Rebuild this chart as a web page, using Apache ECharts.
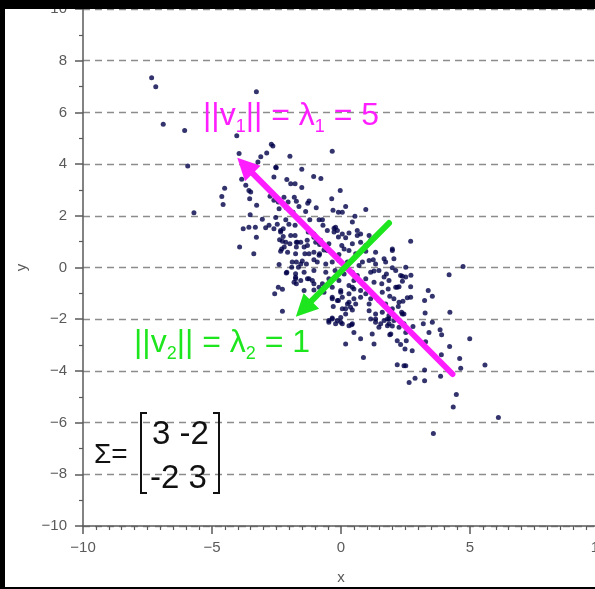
<!DOCTYPE html>
<html>
<head>
<meta charset="utf-8">
<script src="https://cdn.jsdelivr.net/npm/echarts@6/dist/echarts.min.js"></script>
<style>
html, body { margin: 0; padding: 0; background: #fff; }
#chart { width: 595px; height: 589px; }
</style>
</head>
<body>
<div id="chart"></div>
<script>
// scatter points, [x, y]
var outlierPts = [
    [-7.34, 7.34], [-7.18, 6.99], [-6.89, 5.54], [-6.06, 5.30], [-5.94, 3.93], [-5.70, 2.12],
    [-4.04, 5.10], [-3.95, 4.41], [-3.28, 6.80], [-0.34, 4.50], [4.73, 0.04], [4.19, -0.28],
    [4.99, -2.76], [5.58, -3.77], [4.47, -4.91], [4.35, -5.40], [6.10, -5.80], [3.58, -6.42]
];
var upperPts = [
    [-2.70, 4.77], [-2.64, 4.70], [-2.88, 4.43], [-3.11, 4.28], [-3.22, 4.08], [-1.98, 4.30], [-2.53, 3.88],
    [-4.62, 2.75], [-4.51, 3.07], [-4.57, 2.44], [-3.85, 3.41], [-3.69, 3.18], [-3.57, 2.98], [-3.50, 2.92],
    [-3.54, 2.66], [-3.27, 2.41], [-3.52, 2.04], [-3.79, 1.50], [-3.57, 1.56], [-3.32, 1.56], [-3.05, 1.87],
    [-2.92, 1.54], [-3.28, 1.17], [-3.93, 0.79], [-3.38, 0.53], [-2.60, 3.50], [-2.10, 3.40], [-1.95, 3.24],
    [-1.78, 3.24], [-2.51, 3.86], [-2.75, 2.76], [-2.60, 2.60], [-2.43, 2.53], [-2.21, 2.72], [-2.05, 2.53],
    [-1.81, 2.72], [-1.73, 2.56], [-2.40, 2.27], [-2.12, 2.31], [-1.86, 2.14], [-2.53, 1.93], [-2.47, 1.67],
    [-2.14, 1.85], [-2.02, 1.67], [-2.79, 1.63], [-2.60, 1.50], [-2.24, 1.50], [-1.78, 1.63], [-2.34, 1.43],
    [-2.38, 1.07], [-2.27, 1.02], [-2.30, 0.72], [-2.20, 0.79], [-2.40, 0.12], [-2.10, -0.18], [-1.91, 0.01],
    [-1.76, -0.24], [-2.57, -1.02], [-2.43, -0.76], [-2.27, -0.84], [-2.27, -1.69],
    [-1.52, 3.80], [-1.06, 3.52], [-0.78, 3.44], [-1.52, 3.09], [-0.03, 2.98], [-0.36, 2.66], [-1.24, 2.57],
    [-1.29, 2.49], [0.18, 2.36], [-1.63, 2.36], [-0.96, 2.31], [-1.37, 2.17], [-0.31, 2.21], [-0.10, 2.14],
    [0.05, 2.14], [0.96, 2.24], [0.54, 1.98], [-1.21, 1.85], [-0.85, 1.85], [-0.72, 1.85], [-0.70, 1.63],
    [-0.27, 1.52], [-2.34, 1.37], [-2.24, 1.20], [-1.95, 1.24], [-1.78, 1.24], [-2.14, 0.98], [-1.98, 0.92],
    [-1.73, 0.98], [-2.34, 0.63], [-2.07, 0.59], [-1.73, 0.79], [-1.89, 0.21], [-1.73, 0.21], [-1.65, 0.01],
    [-2.12, -0.21], [-1.76, -0.38], [-1.82, -0.57], [-1.73, -0.63]
];
var centerPts = [
    [2.70, 1.02], [1.99, 0.66], [1.67, 0.34], [1.25, 0.30], [0.83, 0.21], [1.67, -0.37], [1.28, -0.14],
    [-0.14, 1.43], [0.05, 1.30], [0.44, 1.76], [0.63, 1.43], [0.76, 1.30], [-0.21, 1.56], [-0.53, 1.43],
    [-0.79, 1.05], [-1.05, 1.17], [-1.31, 1.05], [-1.43, 0.79], [-1.69, 0.98], [-1.76, 0.53], [-1.56, 0.14],
    [-1.24, 0.53], [-0.85, 0.47], [-0.53, 0.66], [-1.76, -0.44], [-1.56, -0.50], [-1.24, -0.44], [-1.05, -0.63],
    [-0.85, -0.76], [-0.66, -0.96], [-0.34, -1.15], [-0.01, -0.89], [0.44, -0.76],
    [-1.27, 1.37], [-1.05, 1.30], [-0.27, 1.37], [-0.10, 1.18], [0.31, 1.33], [0.18, 1.15], [0.63, 1.24],
    [1.09, 1.24], [1.32, 1.18], [-1.56, 0.98], [-1.30, 0.85], [-0.98, 0.98], [-0.83, 0.89], [-0.47, 0.92],
    [0.03, 0.85], [0.12, 0.72], [0.44, 0.92], [0.76, 0.98], [0.96, 0.85], [1.15, 1.05], [-1.40, 0.53],
    [-1.05, 0.59], [-0.83, 0.53], [-0.66, 0.68], [-0.34, 0.56], [-0.08, 0.50], [0.31, 0.66], [0.57, 0.53],
    [0.96, 0.63], [1.34, 0.59], [1.99, 0.72], [-1.50, 0.25], [-1.34, 0.14], [-1.05, 0.30], [-0.92, 0.21],
    [-0.59, 0.14], [-0.34, 0.21], [-0.08, 0.27], [0.25, 0.21], [0.70, 0.08], [1.09, 0.27], [1.34, 0.14],
    [1.73, 0.21], [2.05, 0.34], [2.51, 0.01], [-1.43, -0.18], [-1.05, -0.12], [-0.59, -0.18], [-0.23, -0.12],
    [0.12, -0.25], [0.44, -0.18], [0.63, -0.31], [1.15, -0.18], [1.47, -0.12], [1.76, -0.25], [2.12, -0.12],
    [2.31, -0.31], [-1.30, -0.44], [-1.11, -0.50], [-0.72, -0.63], [-0.47, -0.44], [-0.08, -0.50], [0.31, -0.70],
    [0.50, -0.50], [0.96, -0.44], [1.28, -0.57], [1.58, -0.63], [1.86, -0.50], [2.51, -0.37], [-1.43, -0.89],
    [-1.05, -0.87], [-0.34, -0.76], [-0.01, -0.96], [0.31, -1.02], [0.50, -0.83], [0.76, -0.89], [0.96, -1.02],
    [1.28, -1.09], [1.60, -0.96], [1.83, -0.83], [2.12, -0.76], [-0.34, -1.21], [-0.10, -1.28], [0.05, -1.15],
    [0.31, -1.34], [0.50, -1.21], [0.76, -1.15], [1.09, -1.41], [1.15, -1.21], [1.47, -1.28], [1.73, -1.41],
    [2.05, -1.21], [2.25, -1.34], [0.05, -1.60], [0.44, -1.64], [0.18, -1.80], [1.09, -1.67], [1.34, -1.80],
    [1.60, -1.73], [1.86, -1.86], [1.99, -1.60], [2.38, -1.80], [-0.47, -2.05], [-0.34, -1.95], [-0.21, -2.18],
    [-0.01, -2.12], [0.31, -2.25], [1.15, -1.99], [1.34, -2.12], [1.47, -2.31], [1.67, -2.05], [1.80, -2.25],
    [2.05, -2.05], [2.25, -2.31]
];
var lowerPts = [
    [1.99, -0.01], [2.38, -0.34], [2.71, -0.30], [2.38, -0.53], [2.18, -0.76], [2.25, -0.74], [2.70, -0.74],
    [3.38, -0.89], [3.54, -1.11], [1.89, -1.11], [2.70, -1.15], [2.57, -1.17], [2.40, -1.31], [3.24, -1.28],
    [2.22, -1.51], [2.35, -1.73], [2.44, -1.80], [1.93, -1.67], [1.86, -1.99], [3.26, -1.76], [4.22, -1.73],
    [1.99, -2.26], [2.44, -2.18], [2.79, -2.28], [3.19, -2.18], [3.54, -2.12], [2.51, -2.51], [3.41, -2.51],
    [3.84, -2.41], [3.90, -2.60], [1.89, -2.60], [2.18, -2.83], [2.53, -2.83], [2.31, -2.98], [3.28, -2.87],
    [2.48, -3.15], [2.76, -3.22], [4.21, -3.06], [3.89, -3.38], [4.60, -3.52], [4.64, -3.90], [2.18, -3.76],
    [2.44, -3.80], [2.51, -3.80], [3.24, -3.97], [2.87, -4.28], [2.64, -4.45], [3.24, -4.38], [3.86, -4.21],
    [-0.47, -2.12], [-0.34, -1.99], [-0.14, -2.05], [-0.01, -1.93], [0.18, -1.60], [0.37, -1.54], [0.57, -1.41],
    [0.25, -1.41], [-0.14, -1.28], [-0.30, -1.51], [0.05, -2.18], [0.44, -2.18], [0.76, -2.76], [0.18, -2.96],
    [0.50, -2.51], [0.87, -3.48], [1.21, -2.57], [1.28, -2.96], [1.34, -1.99], [1.54, -2.18], [1.80, -1.99],
    [1.93, -2.57], [1.86, -2.18], [0.41, -2.21]
];

// eigenvector arrows: [tail, head]
var arrowV1 = [[4.32, -4.12], [-3.72, 3.94]];
var arrowV2 = [[1.86, 1.72], [-1.45, -1.60]];

var xTicks = { min: -10, max: 10, step: 5 };
var yTicks = { min: -10, max: 10, step: 2 };

// annotation texts: [string, isSubscript]
var labelV1 = [['||v', 0], ['1', 1], ['|| = λ', 0], ['1', 1], [' = 5', 0]];
var labelV2 = [['||v', 0], ['2', 1], ['|| = λ', 0], ['2', 1], [' = 1', 0]];
var matrixRows = ['3 -2', '-2 3'];

var allPts = outlierPts.concat(upperPts, centerPts, lowerPts);

var chart = echarts.init(document.getElementById('chart'));

function minusFmt(v) {
    return v < 0 ? '\u2212' + Math.abs(v) : String(v);
}

var axisGray = '#5a5a5a';
var magenta = '#ff1eff';
var green = '#1ee61e';
var mainFont = 32, subFont = 18;

// lay out a label with subscripts piece by piece (text is top-aligned, so shift by ~0.845em to hit the baseline)
var measureCtx = document.createElement('canvas').getContext('2d');
function subLabel(parts, x0, baseline, color) {
    var els = [];
    var x = x0;
    for (var i = 0; i < parts.length; i++) {
        var sub = parts[i][1];
        var size = sub ? subFont : mainFont;
        var font = size + 'px "Liberation Sans"';
        measureCtx.font = font;
        var base = sub ? baseline + 6 : baseline;
        els.push({
            type: 'text', x: x, y: base - 0.845 * size, z: 10,
            style: { text: parts[i][0], font: font, fill: color, verticalAlign: 'top' }
        });
        x += measureCtx.measureText(parts[i][0]).width;
    }
    return els;
}

var graphics = [].concat(
    subLabel(labelV1, 203, 127, magenta),
    subLabel(labelV2, 134, 354, green),
    [
        // covariance matrix
        {
            type: 'text', x: 94, y: 455, z: 10,
            style: { text: 'Σ=', fill: '#111', font: '28px "Liberation Sans"', verticalAlign: 'middle' }
        },
        {
            type: 'text', x: 152, y: 435, z: 10,
            style: { text: matrixRows[0], fill: '#111', font: '33px "Liberation Sans"', verticalAlign: 'middle' }
        },
        {
            type: 'text', x: 150, y: 479, z: 10,
            style: { text: matrixRows[1], fill: '#111', font: '33px "Liberation Sans"', verticalAlign: 'middle' }
        },
        {
            type: 'polyline', z: 10,
            shape: { points: [[147, 413], [141, 413], [141, 493], [147, 493]] },
            style: { stroke: '#111', lineWidth: 2, fill: null }
        },
        {
            type: 'polyline', z: 10,
            shape: { points: [[213, 413], [219, 413], [219, 493], [213, 493]] },
            style: { stroke: '#111', lineWidth: 2, fill: null }
        },
        // black frame of the screenshot
        { type: 'rect', z: 100, shape: { x: 0, y: 0, width: 595, height: 9 }, style: { fill: '#000' } },
        { type: 'rect', z: 100, shape: { x: 0, y: 0, width: 5, height: 589 }, style: { fill: '#000' } },
        { type: 'rect', z: 100, shape: { x: 0, y: 587, width: 595, height: 2 }, style: { fill: '#000' } }
    ]
);

var option = {
    animation: false,
    backgroundColor: '#fff',
    grid: { left: 83, top: 9, width: 516, height: 517, outerBoundsMode: 'none', containLabel: false },
    xAxis: {
        type: 'value',
        min: xTicks.min,
        max: xTicks.max,
        interval: xTicks.step,
        name: 'x',
        nameLocation: 'middle',
        nameGap: 44,
        nameTextStyle: { color: axisGray, fontSize: 15, fontFamily: 'Liberation Sans' },
        axisLine: { show: true, onZero: false, lineStyle: { color: axisGray, width: 1.5 } },
        axisTick: { show: true, inside: false, length: 8, lineStyle: { color: axisGray, width: 1.5 } },
        minorTick: { show: true, splitNumber: 10, length: 4, lineStyle: { color: axisGray, width: 1.2 } },
        axisLabel: { color: axisGray, fontSize: 15, margin: 14, fontFamily: 'Liberation Sans',
            showMinLabel: true, showMaxLabel: true, formatter: minusFmt },
        splitLine: { show: false }
    },
    yAxis: {
        type: 'value',
        min: yTicks.min,
        max: yTicks.max,
        interval: yTicks.step,
        name: 'y',
        nameLocation: 'middle',
        nameGap: 54,
        nameTextStyle: { color: axisGray, fontSize: 15, fontFamily: 'Liberation Sans' },
        axisLine: { show: true, onZero: false, lineStyle: { color: axisGray, width: 1.5 } },
        axisTick: { show: true, inside: false, length: 8, lineStyle: { color: axisGray, width: 1.5 } },
        minorTick: { show: true, splitNumber: 2, length: 4, lineStyle: { color: axisGray, width: 1.2 } },
        axisLabel: { color: axisGray, fontSize: 15, margin: 16, fontFamily: 'Liberation Sans',
            showMinLabel: true, showMaxLabel: true, formatter: minusFmt },
        splitLine: { show: true, lineStyle: { color: '#8c8c8c', width: 1.3, type: [7, 5] } }
    },
    series: [
        {
            type: 'scatter',
            data: allPts,
            symbolSize: 5,
            itemStyle: { color: '#000048' },
            z: 2
        },
        {
            type: 'lines',
            coordinateSystem: 'cartesian2d',
            data: [{ coords: arrowV1 }],
            symbol: ['none', 'triangle'],
            symbolSize: [22, 22],
            lineStyle: { color: magenta, width: 6, opacity: 1, cap: 'round' },
            itemStyle: { color: magenta },
            z: 3
        },
        {
            type: 'lines',
            coordinateSystem: 'cartesian2d',
            data: [{ coords: arrowV2 }],
            symbol: ['none', 'triangle'],
            symbolSize: [22, 22],
            lineStyle: { color: green, width: 6, opacity: 1, cap: 'round' },
            itemStyle: { color: green },
            z: 3
        }
    ],
    graphic: graphics
};

chart.setOption(option);
</script>
</body>
</html>
